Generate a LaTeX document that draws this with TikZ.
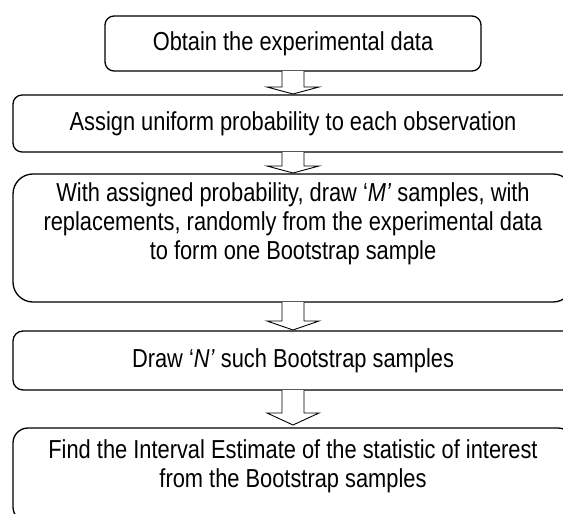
\documentclass[tikz,border=0pt]{standalone}
\usepackage{fontspec}
\setmainfont[FakeStretch=0.84]{Liberation Sans}
\usetikzlibrary{calc}
\newcommand\flowarrow[4]{%
  \draw[arr] let \p1=(#1.south), \p2=(#2.north) in
    (\x1-11pt,\y1) -- (\x1-11pt,\y2+#4+#3) -- (\x1-26pt,\y2+#4+#3) -- (\x1,\y2+#4)
    -- (\x1+26pt,\y2+#4+#3) -- (\x1+11pt,\y2+#4+#3) -- (\x1+11pt,\y1);
}
\begin{document}
\begin{tikzpicture}[x=1pt,y=-1pt,
  box/.style={draw=black, line width=1.3pt, rounded corners=#1, fill=white, inner sep=0pt, outer sep=0pt},
  box/.default=9pt,
  txt/.style={align=center, font=\fontsize{26}{29}\selectfont, inner sep=0pt},
  arr/.style={draw=black, line width=0.9pt, fill=white, line join=miter}
]
\useasboundingbox (0,0) rectangle (563,514);
\clip (0,0) rectangle (563,514);
\fill[white] (0,0) rectangle (563,514);

\node[box, txt, minimum width=376pt, minimum height=55pt] (b1) at (293,43.5) {Obtain the experimental data};
\node[box, txt, minimum width=560pt, minimum height=57pt] (b2) at (293,123.5) {Assign uniform probability to each observation};
\node[box=20pt, minimum width=560pt, minimum height=128pt] (b3) at (293,238) {};
\node[txt] (t3) at (293,224) {With assigned probability, draw ‘\textit{M’} samples, with\\replacements, randomly from the experimental data\\to form one Bootstrap sample};
\node[box=10pt, txt, minimum width=560pt, minimum height=59pt] (b4) at (293,360.5) {Draw ‘\textit{N’} such Bootstrap samples};
\node[box=15pt, minimum width=560pt, minimum height=94pt] (b5) at (293,475) {};
\node[txt] (t5) at (293,466) {Find the Interval Estimate of the statistic of interest\\from the Bootstrap samples};

\flowarrow{b1}{b2}{7pt}{1pt}
\flowarrow{b2}{b3}{7pt}{1pt}
\flowarrow{b3}{b4}{9pt}{1pt}
\flowarrow{b4}{b5}{12pt}{3pt}
\end{tikzpicture}
\end{document}
